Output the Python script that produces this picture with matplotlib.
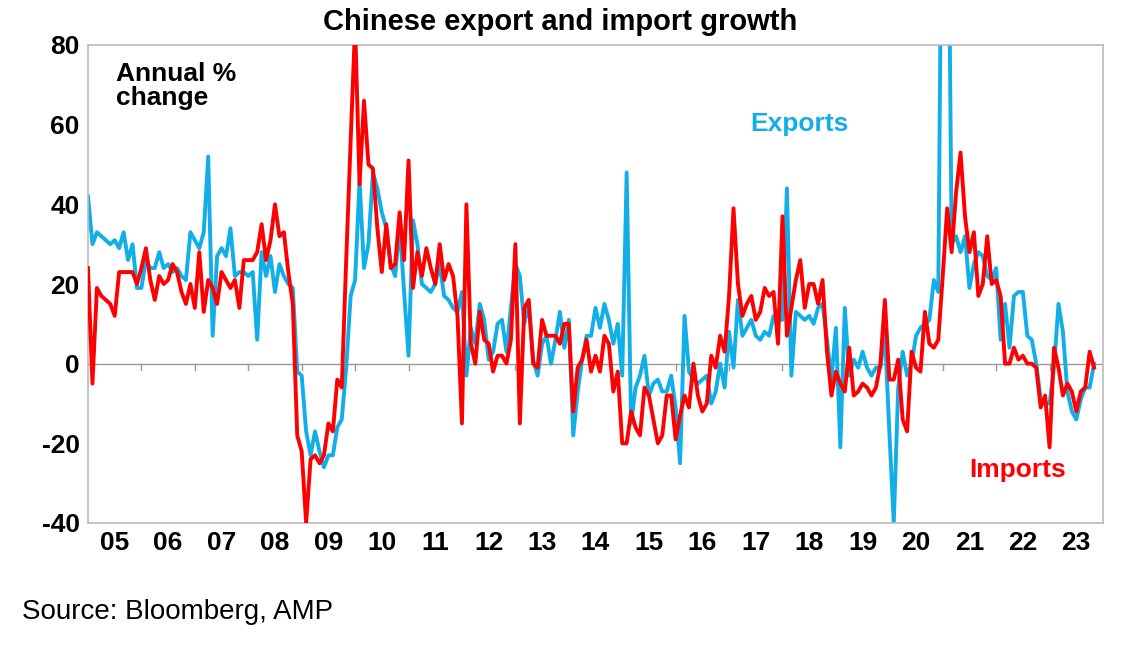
import matplotlib
matplotlib.use("Agg")
import matplotlib.pyplot as plt
import numpy as np

exports = [
 42,30,33,32,31,30,31,29,33,26,30,19,
 19,26,24,24,28,24,25,23,24,22,21,33,
 31,29,33,52,7,27,29,27,34,22,23,23,
 22,23,6,28,22,27,18,25,22,20,19,-2,
 -3,-17,-23,-17,-22,-26,-23,-23,-16,-14,-1,17,
 21,46,24,30,48,44,38,34,25,22,35,18,
 2,36,30,20,19,18,20,25,17,16,14,13,
 18,-3,9,5,15,11,1,3,10,11,3,14,
 25,22,10,15,1,-3,5,7,0,6,13,4,
 11,-18,-7,1,7,7,14,9,15,11,5,10,
 -3,48,-15,-6,-3,2,-8,-5,-4,-7,-7,-3,
 -11,-25,12,-2,-4,-5,-4,-3,-10,-7,0,-6,
 8,-1,16,7,9,11,7,6,8,7,12,11,
 11,44,-3,13,12,11,12,10,14,15,6,-4,
 9,-21,14,-3,1,-1,3,-1,-3,-1,-1,8,
 -17,-40,-6,3,-3,0,7,9,10,11,21,18,
 155,155,30,32,28,32,19,25,28,27,22,21,
 24,6,15,4,17,18,18,7,6,0,-9,-10,
 -10,-1,15,8,-7,-12,-14,-9,-6,-6,0]
imports = [
 24,-5,19,17,16,15,12,23,23,23,23,20,
 24,29,21,16,22,20,21,25,23,18,15,20,
 14,28,13,21,19,15,23,21,19,21,14,26,
 26,26,28,35,26,31,40,32,33,23,15,-18,
 -22,-40,-24,-23,-25,-23,-15,-17,-4,-6,26,56,
 85,45,66,50,49,34,23,35,24,25,38,26,
 51,19,28,22,29,24,20,30,21,25,22,12,
 -15,40,5,0,13,6,5,-2,2,2,0,6,
 30,-15,14,16,0,-1,11,7,7,7,5,10,
 10,-12,-1,1,6,-2,2,-2,7,5,-7,-2,
 -20,-20,-12,-16,-18,-6,-8,-14,-20,-18,-8,-8,
 -19,-13,-8,-11,0,-8,-12,-10,2,-1,7,3,
 17,39,20,12,15,17,11,13,19,17,18,5,
 37,7,14,21,26,14,20,20,15,21,3,-8,
 -2,-5,-7,4,-8,-7,-5,-6,-8,-6,0,16,
 -4,-4,1,-14,-17,3,-1,-2,13,5,4,6,
 22,39,28,43,53,37,28,33,17,20,32,20,
 21,17,0,0,4,1,2,0,0,-1,-11,-8,
 -21,4,-1,-8,-5,-7,-12,-7,-6,3,-1]
years = list(range(2005, 2024))
year_labels = [f"{y%100:02d}" for y in years]
t = 2005 + np.arange(len(exports)) / 12.0

plt.rcParams['font.family'] = ['Liberation Sans', 'DejaVu Sans']
fig = plt.figure(figsize=(11.34, 6.51), dpi=100)
ax = fig.add_axes([88/1134, 1-523/651, (1103-88)/1134, (523-45)/651])
ax.plot(t, exports, color='#12aee8', lw=2.8, zorder=2)
ax.plot(t, imports, color='#ff0000', lw=2.8, zorder=3)
ax.axhline(0, color='#999999', lw=1, zorder=1)
ax.set_xlim(2005, 2024)
ax.set_ylim(-40, 80)
ax.set_yticks(range(-40, 81, 20))
ax.set_yticklabels([str(v) for v in range(-40, 81, 20)], fontsize=19, fontweight='bold')
ax.set_xticks([y + 0.5 for y in years])
ax.set_xticklabels(year_labels, fontsize=19, fontweight='bold')
ax.tick_params(axis='both', length=0, pad=6)
for y in years[1:]:
    ax.plot([y, y], [0, -1.5], color='#999999', lw=1, zorder=1)
for s in ax.spines.values():
    s.set_color('#bbbbbb'); s.set_linewidth(1.2)
ax.text(0.028, 0.965, "Annual %\nchange", transform=ax.transAxes, fontsize=19,
        fontweight='bold', va='top', linespacing=1.0)
ax.text(2017.4, 58.5, "Exports", color='#12aee8', fontsize=19, fontweight='bold')
ax.text(2021.5, -28.5, "Imports", color='#ff0000', fontsize=19, fontweight='bold')
fig.text(0.494, 1-22/651, "Chinese export and import growth", ha='center', va='center',
         fontsize=21, fontweight='bold')
fig.text(22/1134, 1-612/651, "Source: Bloomberg, AMP", fontsize=20, va='center')
fig.savefig("out.png", dpi=100)
